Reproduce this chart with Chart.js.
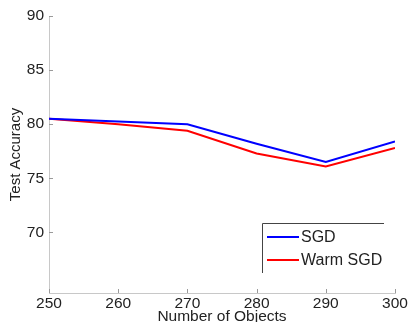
<!DOCTYPE html>
<html><head><meta charset="utf-8">
<script src="https://cdn.jsdelivr.net/npm/chart.js@4/dist/chart.umd.min.js"></script>
<style>html,body{margin:0;padding:0;background:#fff}#w{width:411px;height:322px}</style>
</head><body><div id="w"><canvas id="c" width="411" height="322"></canvas></div>
<script>
const objects = [250, 260, 270, 280, 290, 300];
const sgd = [80.5, 80.25, 80.0, 78.2, 76.5, 78.4];
const warmSgd = [80.5, 80.0, 79.4, 77.3, 76.1, 77.8];
const xTicks = [250, 260, 270, 280, 290, 300];
const yTicks = [70, 75, 80, 85, 90];
const seriesNames = ['SGD', 'Warm SGD'];

const FONT = 'Liberation Sans, Arial, Helvetica, sans-serif';
const TXT = '#222';

const inwardTicks = {
  id: 'inwardTicks',
  afterDatasetsDraw(chart) {
    const ctx = chart.ctx, a = chart.chartArea;
    const x = chart.scales.x, y = chart.scales.y;
    ctx.save();
    ctx.strokeStyle = '#9a9a9a';
    ctx.lineWidth = 1;
    ctx.beginPath();
    xTicks.forEach(v => {
      const px = Math.round(x.getPixelForValue(v)) + 0.5;
      ctx.moveTo(px, a.bottom); ctx.lineTo(px, a.bottom - 4);
    });
    yTicks.forEach(v => {
      const py = Math.round(y.getPixelForValue(v)) + 0.5;
      ctx.moveTo(a.left, py); ctx.lineTo(a.left + 4, py);
    });
    ctx.stroke();
    ctx.restore();
  }
};

const boxLegend = {
  id: 'boxLegend',
  afterDraw(chart) {
    const ctx = chart.ctx;
    const left = 262, top = 223, right = 384, bottom = 273;
    ctx.save();
    ctx.strokeStyle = '#444';
    ctx.lineWidth = 1;
    ctx.beginPath();
    ctx.moveTo(left + 0.5, bottom); ctx.lineTo(left + 0.5, top + 0.5); ctx.lineTo(right, top + 0.5);
    ctx.stroke();
    const rows = [237, 260];
    chart.data.datasets.forEach((ds, i) => {
      ctx.strokeStyle = ds.borderColor;
      ctx.lineWidth = 2;
      ctx.beginPath();
      ctx.moveTo(267, rows[i]); ctx.lineTo(299, rows[i]);
      ctx.stroke();
      ctx.fillStyle = TXT;
      ctx.font = '16px ' + FONT;
      ctx.textBaseline = 'middle';
      ctx.textAlign = 'left';
      ctx.fillText(ds.label, 301, rows[i] + 1);
    });
    ctx.restore();
  }
};

new Chart(document.getElementById('c'), {
  type: 'line',
  data: {
    datasets: [
      { label: seriesNames[0], data: objects.map((x, i) => ({x, y: sgd[i]})), borderColor: '#0000ff', borderWidth: 2, pointRadius: 0, tension: 0, fill: false },
      { label: seriesNames[1], data: objects.map((x, i) => ({x, y: warmSgd[i]})), borderColor: '#ff0000', borderWidth: 2, pointRadius: 0, tension: 0, fill: false }
    ]
  },
  options: {
    responsive: false,
    animation: false,
    devicePixelRatio: 1,
    layout: { padding: { top: 16, right: 16, left: 0, bottom: 0 } },
    plugins: { legend: { display: false }, tooltip: { enabled: false } },
    scales: {
      x: {
        type: 'linear', min: 250, max: 300,
        afterBuildTicks: s => { s.ticks = xTicks.map(v => ({value: v})); },
        afterFit: s => { s.height = 29; },
        grid: { display: false, drawTicks: false },
        border: { display: true, color: '#c8c8c8', width: 1 },
        ticks: { color: TXT, font: { family: FONT, size: 15.5, lineHeight: 1 }, padding: 3, maxRotation: 0, autoSkip: false },
        title: { display: true, text: 'Number of Objects', color: TXT, font: { family: FONT, size: 15.5, lineHeight: 1 }, padding: { top: 0, bottom: -2 } }
      },
      y: {
        type: 'linear', min: 64.4, max: 90,
        afterBuildTicks: s => { s.ticks = yTicks.map(v => ({value: v})); },
        afterFit: s => { s.width = 49; },
        grid: { display: false, drawTicks: false },
        border: { display: true, color: '#c8c8c8', width: 1 },
        ticks: { color: TXT, font: { family: FONT, size: 15.5 }, padding: 5 },
        title: { display: true, text: 'Test Accuracy', color: TXT, font: { family: FONT, size: 15, lineHeight: 1 }, padding: { top: 8.5, bottom: 0 } }
      }
    }
  },
  plugins: [inwardTicks, boxLegend]
});
</script>
</body></html>
